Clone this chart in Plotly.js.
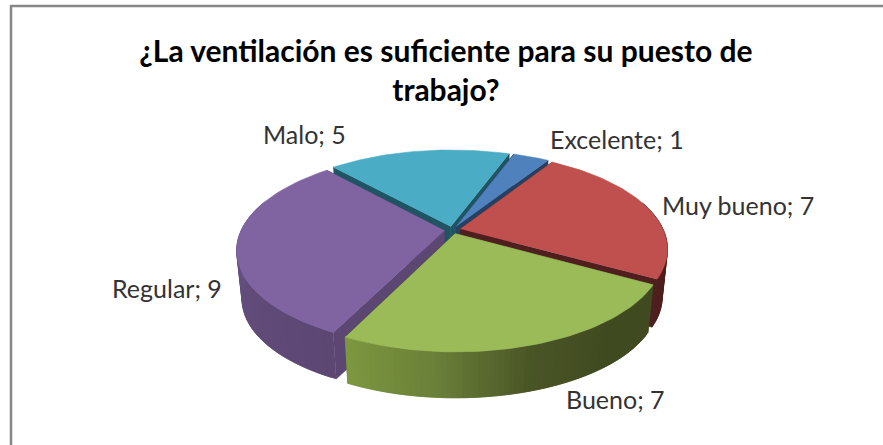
<!DOCTYPE html>
<html><head><meta charset="utf-8">
<script src="https://cdn.plot.ly/plotly-3.0.1.min.js"></script>
<style>html,body{margin:0;padding:0;background:#fff}#c{width:883px;height:445px}</style>
</head><body><div id="c"></div>
<script>
const categories = ["Excelente","Muy bueno","Bueno","Regular","Malo"];
const values = [1,7,7,9,5];
const topColors = ["#4F81BD","#C0504D","#9BBB59","#8064A2","#4BACC6"];
const sideColors = ["#254061","#4E1F1E","#424C21","#5C4672","#1F5563"];
const arcShades = [
  ["#254061","#254061"],
  ["#4E1F1E","#4E1F1E"],
  ["#404A20","#404A20","#4A5526","#6A7F38","#7C9840"],
  ["#5C4672","#65507F","#6F5A8F"],
  ["#1F5563","#1F5563"]
];
const labelX = [617,738,615,167,304];
const labelY = [139,205,399,288,134];
const drawOrder = [4,0,1,3,2];

const CX=452.5, CY=230, R=203, RY=93, K=0.2, PULL=0.04, ROT=20;
const DROP=49, SHRINK=0.975;
const total = values.reduce((a,b)=>a+b,0);

function project(u,v,low){
  const s=1/(1+K*v);
  let x=CX+R*u*s, y=CY-RY*v*s;
  if(low){ x=CX+(x-CX)*SHRINK; y=CY+(y-CY)*SHRINK+DROP; }
  return [x,y];
}
function hexRgb(h){return [1,3,5].map(i=>parseInt(h.substr(i,2),16));}
function mix(stops,t){
  const n=stops.length-1, p=Math.min(n-1e-6,t*n), i=Math.floor(p), f=p-i;
  const a=hexRgb(stops[i]), b=hexRgb(stops[i+1]);
  return "rgb("+a.map((c,k)=>Math.round(c+(b[k]-c)*f)).join(",")+")";
}
function poly(pts,color,lw){
  return {type:"scatter",mode:"lines",x:pts.map(p=>p[0]),y:pts.map(p=>p[1]),
    fill:"toself",fillcolor:color,line:{color:color,width:lw||0.6},hoverinfo:"skip",showlegend:false};
}
const traces=[];
let cum=ROT;
const spans=values.map(v=>{const a=cum; cum+=v/total*360; return [a,cum];});
drawOrder.forEach(i=>{
  const [a0,a1]=spans[i];
  const mid=(a0+a1)/2*Math.PI/180;
  const ou=PULL*Math.sin(mid), ov=PULL*Math.cos(mid);
  const rim=d=>{const t=d*Math.PI/180; return [ou+Math.sin(t), ov+Math.cos(t)];};
  const P=(uv,low)=>project(uv[0],uv[1],low);
  const apex=[ou,ov];
  traces.push(poly([P(apex,0),P(rim(a0),0),P(rim(a0),1),P(apex,1)],sideColors[i]));
  traces.push(poly([P(apex,0),P(rim(a1),0),P(rim(a1),1),P(apex,1)],sideColors[i]));
  const N=Math.max(4,Math.round((a1-a0)/1.2));
  for(let k=0;k<N;k++){
    const d0=a0+(a1-a0)*k/N, d1=a0+(a1-a0)*(k+1)/N;
    if(Math.cos(d0*Math.PI/180)>0.3 && Math.cos(d1*Math.PI/180)>0.3) continue;
    const d2=Math.min(a1,d1+(a1-a0)/N);
    traces.push(poly([P(rim(d0),0),P(rim(d1),0),P(rim(d2),0),P(rim(d2),1),P(rim(d1),1),P(rim(d0),1)],mix(arcShades[i],(k+0.5)/N),0));
  }
  const top=[P(apex,0)];
  for(let k=0;k<=60;k++) top.push(P(rim(a0+(a1-a0)*k/60),0));
  traces.push(poly(top,topColors[i]));
});
const annotations=categories.map((c,i)=>({x:labelX[i],y:labelY[i],xref:"x",yref:"y",
  text:c+"; "+values[i],showarrow:false,xanchor:"center",yanchor:"middle",
  font:{family:"Lato, sans-serif",size:25,color:"#333"}}));
const layout={
  width:883,height:445,margin:{l:0,r:0,t:0,b:0},paper_bgcolor:"#fff",plot_bgcolor:"#fff",showlegend:false,
  title:{text:"¿La ventilación es suficiente para su puesto de<br>trabajo?",
    font:{family:"Lato, sans-serif",size:30,color:"#000",weight:700},
    x:0.505,xanchor:"center",y:0.86,yanchor:"middle"},
  xaxis:{range:[0,883],visible:false,fixedrange:true},
  yaxis:{range:[445,0],visible:false,fixedrange:true},
  annotations:annotations,
  shapes:[{type:"line",xref:"x",yref:"y",x0:11,x1:11,y0:5,y1:445,line:{color:"#868686",width:2.5}},
          {type:"line",xref:"x",yref:"y",x0:10,x1:883,y0:6,y1:6,line:{color:"#868686",width:2.5}}]
};
Plotly.newPlot("c",traces,layout,{displayModeBar:false,staticPlot:true});
</script></body></html>
